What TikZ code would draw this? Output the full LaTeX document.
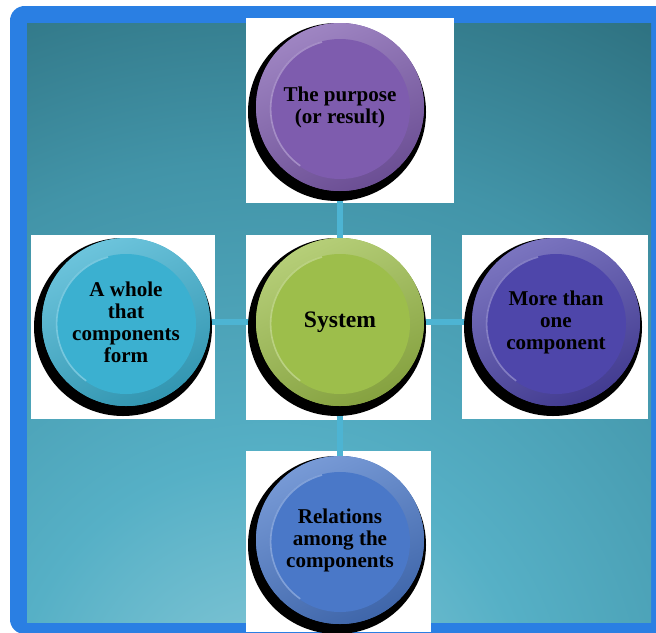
\documentclass[tikz,border=0pt]{standalone}
\usepackage{fontspec}
\setmainfont{Liberation Serif}

\pgfdeclarelayer{back}
\pgfdeclarelayer{links}
\pgfsetlayers{back,links,main}

\definecolor{frameblue}{HTML}{2A7FE3}
\definecolor{bgdark}{HTML}{2E7180}
\definecolor{bgdeep}{HTML}{4294A8}
\definecolor{bgmid}{HTML}{56B0C6}
\definecolor{bglight}{HTML}{8ACAD8}
\definecolor{linkblue}{HTML}{4DB4D3}
\definecolor{sysgreen}{HTML}{9DBE4B}
\definecolor{purposeviolet}{HTML}{7E5CAE}
\definecolor{partsindigo}{HTML}{4E46AA}
\definecolor{wholecyan}{HTML}{3BB0D0}
\definecolor{relblue}{HTML}{4A78C8}

\pgfdeclareradialshading{bgglow}{\pgfpoint{0bp}{0bp}}{color(0bp)=(bglight); color(6.5bp)=(bgmid); color(14bp)=(bgdeep); color(20bp)=(bgdark); color(50bp)=(bgdark)}

\begin{document}
\begin{tikzpicture}[x=0.75pt, y=-0.75pt,
  btn/.style={circle, minimum size=126pt, inner sep=0pt, fill=#1, align=center,
    font=\fontsize{15.8}{16.5}\selectfont\bfseries,
    path picture={
      \shade[top color=#1!75!white, bottom color=#1!85!black, shading angle=25]
        (path picture bounding box.center) circle (63pt);
      \fill[#1] ([yshift=-1.5pt]path picture bounding box.center) circle (52.5pt);
      \draw[white, opacity=0.3, line width=1.2pt]
        ([yshift=-1.5pt]path picture bounding box.center) ++(105:52pt)
        arc[start angle=105, end angle=235, radius=52pt];
    }},
  shadowdisc/.style={fill=black},
  link/.style={draw=linkblue, line width=4.5pt},
  pad/.style={fill=white}]
	\useasboundingbox (0,0) rectangle (656,632);

	%frame and background
	\begin{pgfonlayer}{back}
	\fill[frameblue, rounded corners=11pt] (10,6) rectangle (668,634);
	\begin{scope}
		\clip (27,23) rectangle (651,622);
		\shade[shading=bgglow] (270,720) circle (750pt);
	\end{scope}

	%white pads
	\fill[pad] (246,18) rectangle (454,203);
	\fill[pad] (246,235) rectangle (431,420);
	\fill[pad] (462,235) rectangle (648,419);
	\fill[pad] (31,235) rectangle (215,419);
	\fill[pad] (246,451) rectangle (431,632);
	\end{pgfonlayer}

	%shadows
	\fill[shadowdisc] (340,322) ++(-3,5) circle (66.75pt);
	\fill[shadowdisc] (340,107) ++(-3,5) circle (66.75pt);
	\fill[shadowdisc] (556,322) ++(-3,5) circle (66.75pt);
	\fill[shadowdisc] (126,322) ++(-3,5) circle (66.75pt);
	\fill[shadowdisc] (340,540) ++(-3,5) circle (66.75pt);

	%buttons
	\node[btn=sysgreen, font=\fontsize{17.7}{20}\selectfont\bfseries] (system) at (340,322) {System};
	\node[btn=purposeviolet] (purpose) at (340,107) {The purpose\\(or result)};
	\node[btn=partsindigo] (parts) at (556,322) {More than\\one\\component};
	\node[btn=wholecyan] (whole) at (126,322) {A whole\\that\\components\\form};
	\node[btn=relblue] (relations) at (340,540) {Relations\\among the\\components};

	%links
	\begin{pgfonlayer}{links}
	\draw[link] (system) -- (purpose);
	\draw[link] (system) -- (parts);
	\draw[link] (system) -- (whole);
	\draw[link] (system) -- (relations);
	\end{pgfonlayer}
\end{tikzpicture}
\end{document}
